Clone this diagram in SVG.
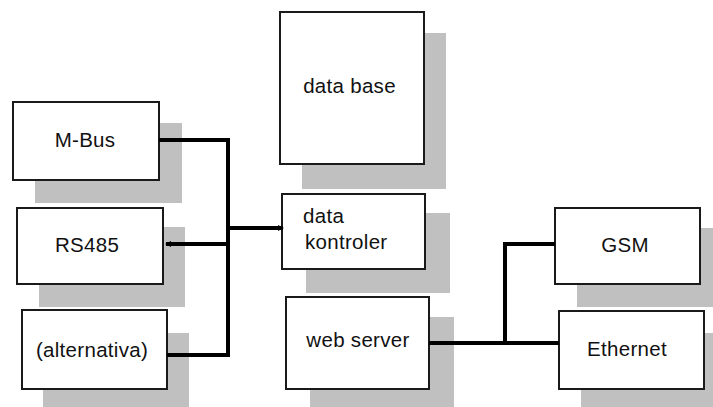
<svg xmlns="http://www.w3.org/2000/svg" width="713" height="407" viewBox="0 0 713 407">
<style>
.sh{fill:#c0c0c0;stroke:none}
.bx{fill:#fff;stroke:#1a1a1a;stroke-width:2}
.t{font-family:"Liberation Sans",Arial,sans-serif;font-size:20.5px;fill:#111;letter-spacing:0.3px}
.c{text-anchor:middle}
.ln{fill:none;stroke:#000;stroke-width:4;stroke-linejoin:miter}
</style>
<defs>
<marker id="ah" viewBox="0 0 6 6" refX="5" refY="3" markerWidth="6" markerHeight="6" markerUnits="userSpaceOnUse" orient="auto">
<path d="M0,0 L6,3 L0,6 Z" fill="#000"/>
</marker>
</defs>
<rect width="713" height="407" fill="#fff"/>
<g id="mbus"><rect class="sh" x="35" y="123" width="147" height="80"/><rect class="bx" x="13" y="102" width="146" height="78"/><text class="t c" x="85" y="147">M-Bus</text></g>
<g id="rs485"><rect class="sh" x="39" y="227" width="146" height="80"/><rect class="bx" x="17" y="208" width="146" height="76"/><text class="t c" x="87" y="252">RS485</text></g>
<g id="alternativa"><rect class="sh" x="43" y="333" width="146" height="80"/><rect class="bx" x="22" y="310" width="145" height="79"/><text class="t c" x="92" y="357">(alternativa)</text></g>
<g id="database"><rect class="sh" x="302" y="33" width="144" height="156"/><rect class="bx" x="280" y="12" width="144" height="152"/><text class="t c" x="349.5" y="93">data base</text></g>
<g id="kontroler"><rect class="sh" x="306" y="213" width="144" height="80"/><rect class="bx" x="282" y="194" width="143" height="75"/><text class="t" x="303" y="223">data</text><text class="t" x="305" y="249">kontroler</text></g>
<g id="webserver"><rect class="sh" x="310" y="317" width="144" height="100"/><rect class="bx" x="286" y="297" width="143" height="92"/><text class="t c" x="358" y="347">web server</text></g>
<g id="gsm"><rect class="sh" x="577" y="228" width="140" height="79"/><rect class="bx" x="555" y="208" width="145" height="76"/><text class="t c" x="625" y="252">GSM</text></g>
<g id="ethernet"><rect class="sh" x="581" y="333" width="140" height="80"/><rect class="bx" x="559" y="311" width="145" height="78"/><text class="t c" x="627" y="356">Ethernet</text></g>
<g id="connectors">
<path class="ln" d="M159,140 H228 V355 H167"/>
<path class="ln" d="M228,244 H166" marker-end="url(#ah)"/>
<path class="ln" d="M228,228 H283" marker-end="url(#ah)"/>
<path class="ln" d="M429,343 H559"/>
<path class="ln" d="M505,343 V244 H555"/>
</g>
</svg>
